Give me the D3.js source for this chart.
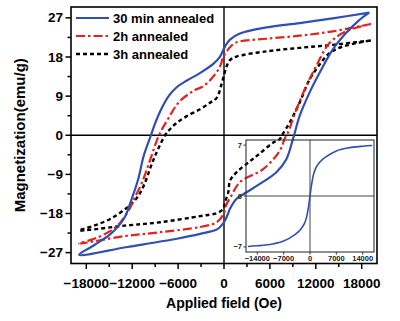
<!DOCTYPE html>
<html><head><meta charset="utf-8">
<script src="https://cdn.jsdelivr.net/npm/d3@7"></script>
<style>body{margin:0;background:#fff}svg{display:block}text{font-family:"Liberation Sans",Arial,sans-serif;font-weight:bold}</style>
</head><body>
<svg id="c" width="400" height="321"></svg>
<script>
// ---- data ----
const seriesNames = ["30 min annealed", "2h annealed", "3h annealed"];
// 30 min annealed loop: field (Oe) and magnetization (emu/g)
const blueH = [19000,14200,9900,5550,2080,780,130,-520,-1400,-3140,-4850,-6150,-7240,-8320,-8970,-9550,-10490,-11200,-12100,-13090,-14820,-16990,-18940,
  -12650,-6150,-3120,-950,-520,-90,130,560,780,1650,2950,4680,6850,8150,9010,9880,11180,12480,14210,15950,17680,19000];
const blueM = [28.2,26.9,25.8,24.8,23.4,22,20.4,18.1,16.4,14.3,12.6,11.1,9,5.6,2.9,0,-4.7,-10,-14.8,-19.2,-22.7,-25.3,-27.5,
  -25.7,-23.8,-22.7,-21.7,-21.1,-20.2,-19.6,-17.9,-16.9,-14.6,-13.1,-11.2,-8.5,-5.5,-0.9,4.4,9.8,14.3,19.7,23.5,26.5,28.2];
// 2h annealed loop
const redH = [19200,14210,9880,5550,2090,1220,560,-90,-520,-1400,-2700,-4000,-5900,-7300,-8500,-9620,-10700,-11570,-12300,-13520,-14500,-16500,-18940,
  -13000,-8320,-3120,-950,-90,350,780,2080,5110,7280,7930,8360,9450,10750,12050,13780,15950,19200];
const redM = [25.6,23.9,22.9,22.2,21.6,21,19.8,18,15.8,13.5,11.3,10.2,7.6,3.8,0,-5.5,-10.8,-14,-16.8,-20,-21.6,-23.5,-24.9,
  -23.2,-22.3,-21.1,-20,-18.2,-15.8,-14.5,-10.8,-7.8,-3.6,-0.8,0.6,5.9,11.3,15.9,21.2,23.9,25.6];
// 3h annealed loop
const blackH = [19200,14210,9880,5550,1650,780,350,0,-300,-950,-1820,-3120,-4850,-6150,-7000,-7700,-9190,-10490,-11350,-12650,-14820,-16990,-18940,
  -13000,-8320,-3120,-950,-90,130,560,780,1650,3380,4680,6410,7280,7710,8580,9880,11180,12480,13780,15520,19200];
const blackM = [21.8,20.8,20.1,19.3,18.1,17.3,15.9,13.8,11.9,8.6,7.5,6,4.4,2.9,1.5,0,-5.5,-11.6,-14.3,-16.6,-19.2,-20.8,-21.9,
  -20.8,-20,-18.6,-17.9,-16.9,-15.4,-13.1,-10.5,-8.5,-6,-4.2,-1.7,-0.9,0.4,2.9,7.5,12.8,16.2,18.9,20.4,21.8];
// inset: 30 min sample, initial curve
const insetH = [-16500,-14000,-10000,-7000,-4000,-2500,-1500,-900,-500,-200,0,200,500,900,1500,2500,4000,7000,10000,14000,16500];
const insetM = [-6.95,-6.85,-6.6,-6.2,-5.3,-4.6,-3.8,-2.9,-1.8,-0.8,0,0.8,1.8,2.9,3.8,4.6,5.3,6.2,6.6,6.85,6.95];
const xTicks = [-18000,-12000,-6000,0,6000,12000,18000];
const yTicks = [-27,-18,-9,0,9,18,27];
const insetXTicks = [-14000,-7000,0,7000,14000];
const insetYTicks = [-7,0,7];

// ---- drawing ----
const svg = d3.select("#c");
const L=71,R=377,T=7,B=263.5;
const x = d3.scaleLinear().domain([-20000,20000]).range([L,R]);
const y = d3.scaleLinear().domain([-29.5,29.5]).range([B,T]);
const fmt = v => v<0 ? "\u2212"+Math.abs(v) : String(v);

// zero lines
svg.append("line").attr("x1",x(0)).attr("x2",x(0)).attr("y1",T).attr("y2",B).attr("stroke","#000").attr("stroke-width",1.4);
svg.append("line").attr("x1",L).attr("x2",R).attr("y1",y(0)).attr("y2",y(0)).attr("stroke","#000").attr("stroke-width",1.4);

const line = d3.line().x(d=>x(d[0])).y(d=>y(d[1])).curve(d3.curveCatmullRom.alpha(0.5));
const styles = [
  {H:blackH,M:blackM,c:"#000",w:2.4,dash:"4,3"},
  {H:redH,M:redM,c:"#e8201c",w:2.2,dash:"9,3,2.5,3"},
  {H:blueH,M:blueM,c:"#2f4fb3",w:2.2,dash:null}
];
styles.forEach(s=>{
  const pts = s.H.map((h,i)=>[h,s.M[i]]);
  svg.append("path").attr("d",line(pts)).attr("fill","none").attr("stroke",s.c)
    .attr("stroke-width",s.w).attr("stroke-dasharray",s.dash);
});

// inset
const iL=246,iR=374,iT=140,iB=252;
const ix = d3.scaleLinear().domain([-17000,17000]).range([iL,iR]);
const iy = d3.scaleLinear().domain([-7.7,7.7]).range([iB,iT]);
const ig = svg.append("g");
ig.append("line").attr("x1",ix(0)).attr("x2",ix(0)).attr("y1",iT).attr("y2",iB).attr("stroke","#444").attr("stroke-width",1);
ig.append("line").attr("x1",iL).attr("x2",iR).attr("y1",iy(0)).attr("y2",iy(0)).attr("stroke","#444").attr("stroke-width",1);
ig.append("path").attr("d",d3.line().x(d=>ix(d[0])).y(d=>iy(d[1])).curve(d3.curveCatmullRom.alpha(0.5))(insetH.map((h,i)=>[h,insetM[i]])))
  .attr("fill","none").attr("stroke","#2f4fb3").attr("stroke-width",1.6);
ig.append("rect").attr("x",iL).attr("y",iT).attr("width",iR-iL).attr("height",iB-iT).attr("fill","none").attr("stroke","#333").attr("stroke-width",1.1);
insetXTicks.forEach(t=>{
  ig.append("line").attr("x1",ix(t)).attr("x2",ix(t)).attr("y1",iB).attr("y2",iB+2.5).attr("stroke","#333");
  ig.append("text").attr("x",ix(t)).attr("y",iB+9).attr("text-anchor","middle").attr("font-size",7.5).attr("fill","#222").text(fmt(t));
});
insetYTicks.forEach(t=>{
  ig.append("line").attr("x1",iL-2.5).attr("x2",iL).attr("y1",iy(t)).attr("y2",iy(t)).attr("stroke","#333");
  ig.append("text").attr("x",iL-4).attr("y",iy(t)+2.5).attr("text-anchor","end").attr("font-size",7.5).attr("fill","#222").text(fmt(t));
});

// frame
svg.append("rect").attr("x",L).attr("y",T).attr("width",R-L).attr("height",B-T).attr("fill","none").attr("stroke","#000").attr("stroke-width",1.6);

// axes ticks
const xMinor = d3.range(-18000,18001,3000);
xMinor.forEach(t=>{
  const major = xTicks.includes(t);
  svg.append("line").attr("x1",x(t)).attr("x2",x(t)).attr("y1",B).attr("y2",B+(major?5.5:3.5)).attr("stroke","#000").attr("stroke-width",1.5);
});
xTicks.forEach(t=>{
  svg.append("text").attr("x",x(t)).attr("y",288).attr("text-anchor","middle").attr("font-size",13.5).text(fmt(t));
});
const yMinor = d3.range(-27,27.01,4.5);
yMinor.forEach(t=>{
  const major = yTicks.includes(t);
  svg.append("line").attr("x1",L-(major?5.5:3.5)).attr("x2",L).attr("y1",y(t)).attr("y2",y(t)).attr("stroke","#000").attr("stroke-width",1.5);
});
yTicks.forEach(t=>{
  svg.append("text").attr("x",L-8).attr("y",y(t)+4.6).attr("text-anchor","end").attr("font-size",13.5).text(fmt(t));
});

// axis titles
svg.append("text").attr("x",x(0)).attr("y",308).attr("text-anchor","middle").attr("font-size",14).text("Applied field (Oe)");
svg.append("text").attr("transform",`translate(25,${y(0)}) rotate(-90)`).attr("text-anchor","middle").attr("font-size",15).text("Magnetization(emu/g)");

// legend
const lg = [{c:"#2f4fb3",dash:null,w:2.2},{c:"#e8201c",dash:"9,3,2.5,3",w:2.2},{c:"#000",dash:"4,3",w:2.4}];
seriesNames.forEach((n,i)=>{
  const yy = 18 + i*18;
  svg.append("line").attr("x1",76).attr("x2",109).attr("y1",yy).attr("y2",yy).attr("stroke",lg[i].c).attr("stroke-width",lg[i].w).attr("stroke-dasharray",lg[i].dash);
  svg.append("text").attr("x",113).attr("y",yy+4.6).attr("font-size",13).text(n);
});
</script>
</body></html>
